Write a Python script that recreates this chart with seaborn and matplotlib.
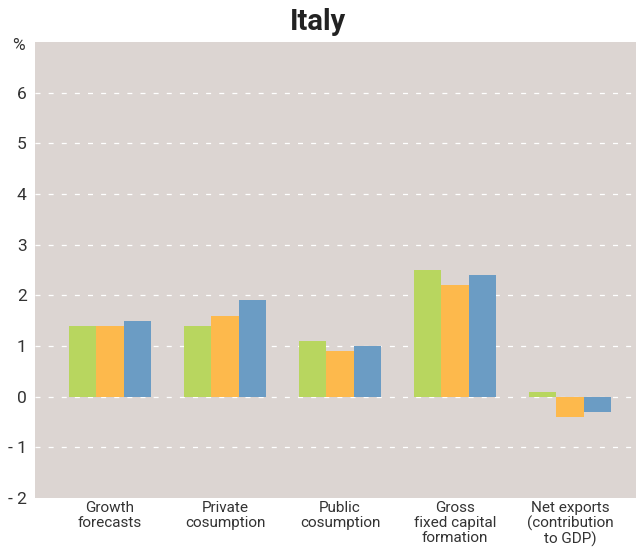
import matplotlib
matplotlib.use("Agg")
import matplotlib.pyplot as plt
import seaborn as sns
import pandas as pd

categories = ["Growth\nforecasts", "Private\ncosumption", "Public\ncosumption",
              "Gross\nfixed capital\nformation", "Net exports\n(contribution\nto GDP)"]
series_names = ["Series 1", "Series 2", "Series 3"]
series_1 = [1.4, 1.4, 1.1, 2.5, 0.1]
series_2 = [1.4, 1.6, 0.9, 2.2, -0.4]
series_3 = [1.5, 1.9, 1.0, 2.4, -0.3]
yticks = [-2, -1, 0, 1, 2, 3, 4, 5, 6]
ytick_labels = ["- 2", "- 1", "0", "1", "2", "3", "4", "5", "6"]
colors = ["#B8D65F", "#FDB94C", "#6B9CC4"]

rows = []
for name, vals in zip(series_names, [series_1, series_2, series_3]):
    for c, v in zip(categories, vals):
        rows.append({"category": c, "series": name, "value": v})
df = pd.DataFrame(rows)

sns.set_style("white")
plt.rcParams["font.family"] = ["Roboto", "DejaVu Sans"]

fig = plt.figure(figsize=(6.36, 5.49), dpi=100)
ax = fig.add_axes([35/636, 51/549, 601/636, 456/549])
ax.set_facecolor("#DCD5D2")

for y in [-1, 0, 1, 2, 3, 4, 5, 6]:
    ax.axhline(y, color="white", lw=0.9, ls=(0, (4, 6.5)), zorder=0.5)

sns.barplot(data=df, x="category", y="value", hue="series", palette=colors,
            width=0.715, saturation=1, ax=ax, legend=False, zorder=2,
            linewidth=0, edgecolor="none")

ax.set_xlim(-0.652, 4.574)
ax.set_ylim(-2, 7)
ax.set_yticks(yticks)
ax.set_yticklabels(ytick_labels, fontsize=12.5, color="#333333")
ax.tick_params(axis="x", labelsize=11, colors="#333333", length=0, pad=2)
ax.tick_params(axis="y", length=0, pad=6)
for lbl in ax.get_xticklabels():
    lbl.set_linespacing(1.08)
ax.set_xlabel("")
ax.set_ylabel("")
for s in ax.spines.values():
    s.set_visible(False)

fig.text(18/636, 1 - 45/549, "%", ha="center", va="center", fontsize=12.5, color="#333333")
fig.text(318/636, 1 - 22/549, "Italy", ha="center", va="center", fontsize=21,
         fontweight="bold", color="#222222")

fig.savefig("out.png", dpi=100)
